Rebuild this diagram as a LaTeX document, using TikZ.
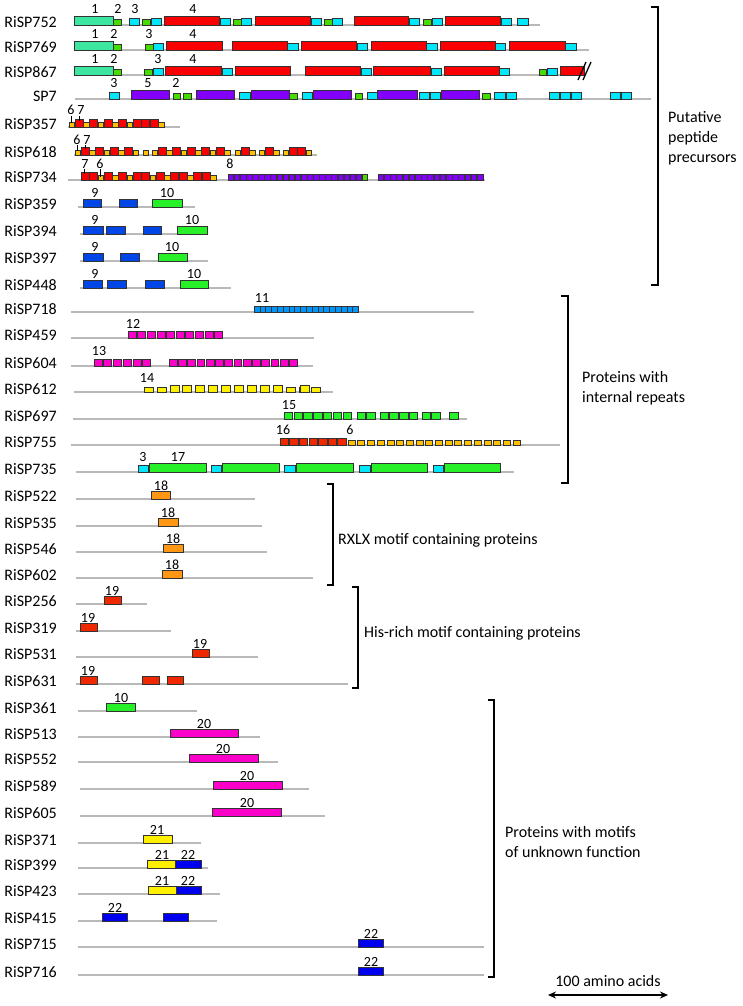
\documentclass[tikz,border=0pt]{standalone}
\usepackage{fontspec}
\setmainfont{Carlito}
\usetikzlibrary{arrows.meta}
\definecolor{cTeal}{RGB}{60,230,160}
\definecolor{cGrn}{RGB}{70,220,0}
\definecolor{cCyan}{RGB}{0,230,250}
\definecolor{cRed}{RGB}{250,0,0}
\definecolor{cPur}{RGB}{130,0,250}
\definecolor{cYor}{RGB}{255,192,0}
\definecolor{cBlu}{RGB}{0,70,230}
\definecolor{cLgr}{RGB}{40,240,40}
\definecolor{cSky}{RGB}{0,150,250}
\definecolor{cMag}{RGB}{250,0,200}
\definecolor{cYel}{RGB}{255,240,0}
\definecolor{cOra}{RGB}{255,150,20}
\definecolor{cRdt}{RGB}{240,40,0}
\definecolor{cBlt}{RGB}{0,0,240}
\definecolor{cGry}{RGB}{185,185,185}
\tikzset{
  bxs/.style={draw=black!80,line width=0.5pt},
  gl/.style={draw=cGry,line width=1.4pt},
  rl/.style={font=\fontsize{16}{18}\selectfont,anchor=east,inner sep=0pt},
  nl/.style={font=\fontsize{14}{16}\selectfont,anchor=base,inner sep=0pt},
  gt/.style={font=\fontsize{16}{19}\selectfont,anchor=west,align=left,inner sep=0pt},
  brk/.style={draw=black,line width=1.4pt},
  tck/.style={draw=black,line width=0.8pt}
}
\newcommand\bx[5]{\path[bxs,fill=#1] (#2,#4) rectangle (#3,#4-#5);}
\newcommand\rep[7]{\foreach \k in {1,...,#5}{\path[bxs,fill=#1] ({#2+(\k-1)*#3},#6) rectangle ++(#4,-#7);}}
\newcommand\bT[3]{\bx{cTeal}{#1}{#2}{#3}{9}}
\newcommand\bG[3]{\bx{cGrn}{#1}{#2}{#3}{5.5}}
\newcommand\bC[3]{\bx{cCyan}{#1}{#2}{#3}{6.5}}
\newcommand\bR[3]{\bx{cRed}{#1}{#2}{#3}{9}}
\newcommand\bP[3]{\bx{cPur}{#1}{#2}{#3}{9}}
\newcommand\Yb[2]{\path[bxs,fill=cYor] (#1,#2) rectangle ++(5.5,-5);}
\newcommand\Rb[2]{\path[bxs,fill=cRed] (#1,#2) rectangle ++(8,-7.5);}
\newcommand\gline[3]{\draw[gl] (#1,#3) -- (#2,#3);}
\newcommand\lab[3]{\node[rl] (#1) at (57,#3-3) {#2};}
\newcounter{nn}
\newcommand\num[3]{\stepcounter{nn}\node[nl] (num\thenn) at (#1,#2) {#3};}
\begin{document}
\begin{tikzpicture}[x=1pt,y=-1pt]
\useasboundingbox[fill=white] (0,0) rectangle (743,1006);
% ---------- RiSP752
\lab{r752}{RiSP752}{25}
\gline{74}{540}{25}
\bT{74}{113}{25}\bG{113}{121}{25}
\bC{129}{139}{25}\bG{142}{150}{25}\bC{151}{161}{25}
\bR{164}{219}{25}\bC{220}{230}{25}\bG{233}{241}{25}\bC{241}{251}{25}
\bR{255}{310}{25}\bC{311}{321}{25}\bG{324}{332}{25}\bC{332}{342}{25}
\bR{354}{408}{25}\bC{409}{419}{25}\bG{423}{431}{25}\bC{432}{442}{25}
\bR{445}{500}{25}\bC{501}{511}{25}\bC{517}{528}{25}
\num{95}{14}{1}\num{118}{14}{2}\num{135}{14}{3}\num{193}{14}{4}
% ---------- RiSP769
\lab{r769}{RiSP769}{50}
\gline{74}{589}{50}
\bT{74}{113}{50}\bG{113}{121}{50}
\bG{145}{153}{50}\bC{153}{163}{50}
\bR{166}{222}{50}\bR{232}{287}{50}\bC{287}{298}{50}
\bR{301}{356}{50}\bC{357}{367}{50}\bR{371}{426}{50}\bC{426}{437}{50}
\bR{440}{495}{50}\bC{495}{505}{50}\bR{509}{565}{50}\bC{565}{576}{50}
\num{95}{39}{1}\num{114}{39}{2}\num{149}{39}{3}\num{193}{39}{4}
% ---------- RiSP867
\lab{r867}{RiSP867}{75}
\gline{74}{583}{75}
\bT{74}{113}{75}\bG{113}{121}{75}
\bG{144}{152}{75}\bC{153}{163}{75}
\bR{165}{221}{75}\bC{222}{232}{75}\bR{235}{290}{75}
\bR{305}{360}{75}\bC{361}{371}{75}\bR{373}{430}{75}\bC{431}{441}{75}
\bR{444}{499}{75}\bC{499}{509}{75}
\bG{539}{546}{75}\bC{547}{557}{75}\bR{560}{584}{75}
\draw[line width=1.3pt] (578,80) -- (586,62);
\draw[line width=1.3pt] (583,80) -- (591,62);
\num{95}{64}{1}\num{114}{64}{2}\num{158}{64}{3}\num{193}{64}{4}
% ---------- SP7
\lab{sp7}{SP7}{99}
\gline{75}{651}{99}
\bC{109}{119}{99}\bP{131}{169}{99}\bG{173}{180}{99}\bG{183}{191}{99}
\bP{196}{234}{99}\bC{239}{250}{99}\bP{251}{289}{99}\bG{289}{297}{99}
\bC{302}{312}{99}\bP{313}{351}{99}\bG{355}{362}{99}\bC{367}{377}{99}
\bP{377}{417}{99}\bC{419}{429}{99}\bC{430}{440}{99}\bP{441}{479}{99}
\bG{482}{490}{99}\bC{494}{505}{99}\bC{506}{516}{99}
\bC{549}{559}{99}\bC{560}{570}{99}\bC{571}{581}{99}
\bC{610}{620}{99}\bC{621}{631}{99}
\num{114}{88}{3}\num{148}{88}{5}\num{176}{88}{2}
% ---------- RiSP357
\lab{r357}{RiSP357}{127}
\gline{68}{180}{127}
\Yb{69}{127}\Rb{75}{127}\Yb{83.5}{127}\Rb{89.5}{127}\Yb{98}{127}\Rb{104}{127}
\Yb{112.5}{127}\Rb{118.5}{127}\Yb{127}{127}\Rb{133}{127}\Rb{141.5}{127}\Rb{150}{127}\Yb{158.5}{127}
\num{71}{115}{6}\num{81}{115}{7}
\draw[tck] (71.5,116) -- (71.5,123);
\draw[tck] (79.5,116) -- (79.5,121);
% ---------- RiSP618
\lab{r618}{RiSP618}{155}
\gline{74}{317}{155}
\Yb{75}{155}\Rb{81}{155}\Yb{89.5}{155}\Rb{95.5}{155}\Yb{104}{155}\Rb{110}{155}\Yb{118.5}{155}\Rb{124.5}{155}\Yb{133}{155}
\Yb{143}{155}
\Yb{152}{155}\Rb{158}{155}\Yb{166.5}{155}\Rb{172.5}{155}\Yb{181}{155}\Rb{187}{155}\Yb{195.5}{155}\Rb{201.5}{155}\Yb{210}{155}\Rb{216}{155}\Yb{224.5}{155}
\Yb{235}{155}\Rb{241}{155}\Yb{249.5}{155}
\Yb{259}{155}\Rb{265}{155}\Yb{273.5}{155}
\Yb{283}{155}\Rb{289}{155}\Rb{297.5}{155}\Yb{306}{155}
\num{77}{144}{6}\num{87}{144}{7}
\draw[tck] (77.5,145) -- (77.5,151);
\draw[tck] (85.5,145) -- (85.5,149);
% ---------- RiSP734
\lab{r734}{RiSP734}{180}
\gline{68}{485}{180}
\Rb{81}{180}\Rb{89.5}{180}\Yb{98}{180}\Rb{104}{180}\Yb{112.5}{180}\Rb{118.5}{180}\Yb{127}{180}\Rb{133}{180}
\Rb{141.5}{180}\Yb{150}{180}\Rb{156}{180}\Yb{164.5}{180}\Rb{170.5}{180}\Rb{179}{180}\Yb{187.5}{180}
\Rb{193.5}{180}\Rb{202}{180}\Yb{210.5}{180}
\rep{cPur}{228}{6.1}{5.6}{22}{180}{5.5}
\bx{cGrn}{362}{367}{180}{5.5}
\rep{cPur}{378}{6.2}{5.7}{17}{180}{5.5}
\num{85}{168}{7}\num{100}{168}{6}\num{230}{168}{8}
\draw[tck] (84.5,169) -- (84.5,174);
\draw[tck] (100.5,169) -- (100.5,177);
% ---------- RiSP359 / 394 / 397 / 448
\lab{r359}{RiSP359}{207}
\gline{78}{195}{207}
\bx{cBlu}{83}{101}{207}{8}\bx{cBlu}{119}{137}{207}{8}\bx{cLgr}{152}{182}{207}{8}
\num{95}{197}{9}\num{167}{197}{10}
\lab{r394}{RiSP394}{234}
\gline{80}{207}{234}
\bx{cBlu}{83}{103}{234}{8}\bx{cBlu}{106}{125}{234}{8}\bx{cBlu}{143}{161}{234}{8}\bx{cLgr}{177}{207}{234}{8}
\num{95}{224}{9}\num{192}{224}{10}
\lab{r397}{RiSP397}{261}
\gline{80}{208}{261}
\bx{cBlu}{83}{103}{261}{8}\bx{cBlu}{120}{139}{261}{8}\bx{cLgr}{158}{187}{261}{8}
\num{95}{251}{9}\num{172}{251}{10}
\lab{r448}{RiSP448}{288}
\gline{80}{231}{288}
\bx{cBlu}{83}{102}{288}{8}\bx{cBlu}{107}{126}{288}{8}\bx{cBlu}{145}{164}{288}{8}\bx{cLgr}{180}{208}{288}{8}
\num{95}{278}{9}\num{194}{278}{10}
% ---------- RiSP718
\lab{r718}{RiSP718}{312}
\gline{71}{474}{312}
\rep{cSky}{254}{5.8}{5.8}{18}{312}{5.5}
\num{262}{302}{11}
% ---------- RiSP459
\lab{r459}{RiSP459}{338}
\gline{71}{314}{338}
\rep{cMag}{128}{9.6}{8}{10}{338}{6.5}
\num{133}{328}{12}
% ---------- RiSP604
\lab{r604}{RiSP604}{366}
\gline{71}{313}{366}
\rep{cMag}{94}{9.7}{8}{6}{366}{6.5}
\rep{cMag}{169}{9.25}{7.8}{14}{366}{6.5}
\num{99}{355}{13}
% ---------- RiSP612
\lab{r612}{RiSP612}{392}
\gline{74}{333}{392}
\rep{cYel}{144}{12.9}{9}{14}{392}{5}
\rep{cYel}{169.8}{12.9}{9}{9}{392}{7}
\bx{cYel}{299.8}{308.8}{392}{7}
\num{147}{382}{14}
% ---------- RiSP697
\lab{r697}{RiSP697}{419}
\gline{73}{467}{419}
\rep{cLgr}{284}{9.8}{8.5}{7}{419}{7}
\rep{cLgr}{357}{9.7}{8.5}{2}{419}{7}
\rep{cLgr}{380}{9.7}{8.5}{4}{419}{7}
\rep{cLgr}{422}{9.7}{8.5}{2}{419}{7}
\rep{cLgr}{449}{9.7}{9}{1}{419}{7}
\num{289}{409}{15}
% ---------- RiSP755
\lab{r755}{RiSP755}{445}
\gline{71}{560}{445}
\rep{cRdt}{280}{9.6}{8.5}{7}{445}{7}
\rep{cYor}{348}{9.7}{7}{18}{445}{5}
\num{283}{434}{16}\num{350}{434}{6}
% ---------- RiSP735
\lab{r735}{RiSP735}{472}
\gline{76}{514}{472}
\bC{138}{148}{472}\bx{cLgr}{149}{206}{472}{9}
\bC{211}{221}{472}\bx{cLgr}{222}{279}{472}{9}
\bC{284}{295}{472}\bx{cLgr}{296}{353}{472}{9}
\bC{359}{370}{472}\bx{cLgr}{371}{427}{472}{9}
\bC{433}{443}{472}\bx{cLgr}{444}{500}{472}{9}
\num{143}{461}{3}\num{178}{461}{17}
% ---------- RXLX
\lab{r522}{RiSP522}{499}
\gline{76}{255}{499}\bx{cOra}{151}{170}{499}{8}\num{161}{490}{18}
\lab{r535}{RiSP535}{526}
\gline{76}{262}{526}\bx{cOra}{158}{178}{526}{8}\num{168}{517}{18}
\lab{r546}{RiSP546}{552}
\gline{76}{267}{552}\bx{cOra}{163}{183}{552}{8}\num{173}{543}{18}
\lab{r602}{RiSP602}{578}
\gline{76}{313}{578}\bx{cOra}{162}{182}{578}{8}\num{172}{569}{18}
% ---------- His-rich
\lab{r256}{RiSP256}{604}
\gline{76}{147}{604}\bx{cRdt}{104}{121}{604}{8}\num{112}{595}{19}
\lab{r319}{RiSP319}{631}
\gline{76}{171}{631}\bx{cRdt}{80}{97}{631}{8}\num{88}{622}{19}
\lab{r531}{RiSP531}{657}
\gline{76}{258}{657}\bx{cRdt}{192}{209}{657}{8}\num{200}{648}{19}
\lab{r631}{RiSP631}{684}
\gline{76}{348}{684}\bx{cRdt}{80}{97}{684}{8}\bx{cRdt}{142}{159}{684}{8}\bx{cRdt}{167}{183}{684}{8}\num{88}{675}{19}
% ---------- unknown function
\lab{r361}{RiSP361}{711}
\gline{78}{197}{711}\bx{cLgr}{106}{135}{711}{8}\num{121}{702}{10}
\lab{r513}{RiSP513}{737}
\gline{78}{260}{737}\bx{cMag}{170}{238}{737}{8}\num{204}{728}{20}
\lab{r552}{RiSP552}{762}
\gline{78}{278}{762}\bx{cMag}{189}{258}{762}{8}\num{223}{753}{20}
\lab{r589}{RiSP589}{789}
\gline{80}{309}{789}\bx{cMag}{213}{282}{789}{8}\num{247}{780}{20}
\lab{r605}{RiSP605}{816}
\gline{80}{325}{816}\bx{cMag}{212}{281}{816}{8}\num{247}{807}{20}
\lab{r371}{RiSP371}{843}
\gline{78}{201}{843}\bx{cYel}{143}{172}{843}{8}\num{157}{834}{21}
\lab{r399}{RiSP399}{868}
\gline{78}{208}{868}\bx{cYel}{147}{175}{868}{8}\bx{cBlt}{175}{201}{868}{8}\num{162}{859}{21}\num{188}{859}{22}
\lab{r423}{RiSP423}{894}
\gline{78}{220}{894}\bx{cYel}{148}{176}{894}{8}\bx{cBlt}{176}{201}{894}{8}\num{162}{885}{21}\num{188}{885}{22}
\lab{r415}{RiSP415}{921}
\gline{78}{217}{921}\bx{cBlt}{102}{127}{921}{8}\bx{cBlt}{163}{188}{921}{8}\num{115}{912}{22}
\lab{r715}{RiSP715}{947}
\gline{78}{484}{947}\bx{cBlt}{358}{383}{947}{8}\num{371}{938}{22}
\lab{r716}{RiSP716}{975}
\gline{78}{484}{975}\bx{cBlt}{358}{383}{975}{8}\num{371}{966}{22}
% ---------- brackets and group texts
\draw[brk] (651,7) -- (658,7) -- (658,285) -- (651,285);
\node[gt] (g1) at (668,138) {Putative\\[1pt]peptide\\[1pt]precursors};
\draw[brk] (561,296) -- (568,296) -- (568,483) -- (561,483);
\node[gt] (g2) at (582,388) {Proteins with\\[1pt]internal repeats};
\draw[brk] (327,484) -- (333,484) -- (333,585) -- (327,585);
\node[gt] (g3) at (338,540) {RXLX motif containing proteins};
\draw[brk] (352,587) -- (358,587) -- (358,688) -- (352,688);
\node[gt] (g4) at (364,633) {His-rich motif containing proteins};
\draw[brk] (488,700) -- (494,700) -- (494,977) -- (488,977);
\node[gt] (g5) at (505,842) {Proteins with motifs\\[1pt]of unknown function};
% ---------- scale
\node[font=\fontsize{16}{18}\selectfont,inner sep=0pt] (sc) at (608,981) {100 amino acids};
\coordinate (sa) at (548,995);
\coordinate (sb) at (668,995);
\draw[{Stealth[length=8pt,width=7pt]}-{Stealth[length=8pt,width=7pt]},line width=2.2pt] (sa) -- (sb);
\end{tikzpicture}
\end{document}
